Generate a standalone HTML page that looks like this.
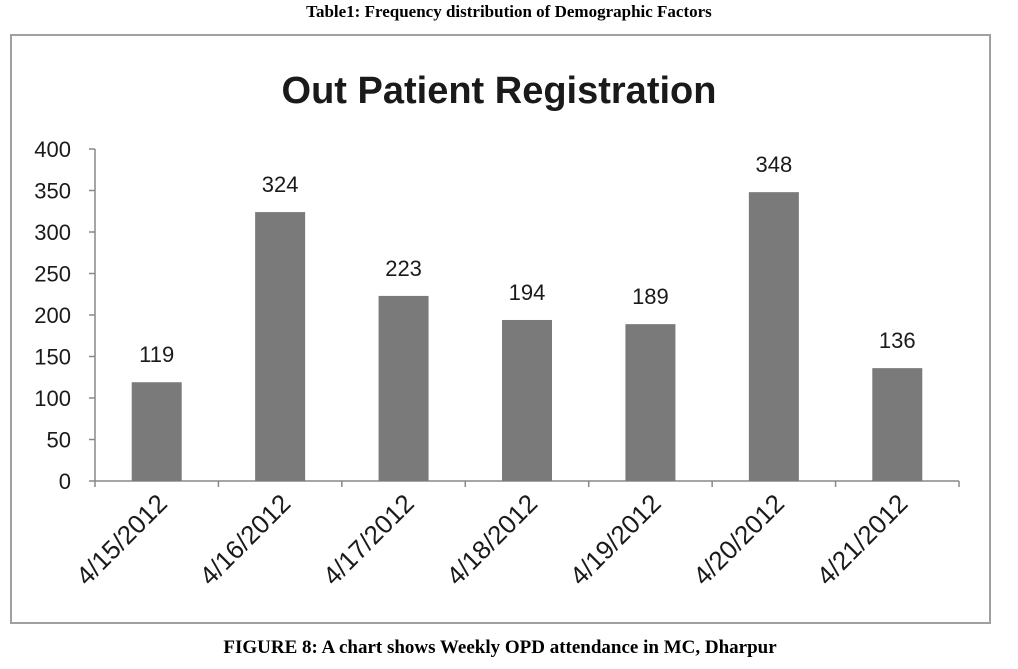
<!DOCTYPE html>
<html><head><meta charset="utf-8"><style>
body{margin:0;background:#fff;width:1018px;height:669px;overflow:hidden}
svg{display:block;font-family:"Liberation Sans","DejaVu Sans",sans-serif}
</style></head><body>
<svg width="1018" height="669">
<text x="509" y="17" text-anchor="middle" font-family="Liberation Serif" font-weight="bold" font-size="17">Table1: Frequency distribution of Demographic Factors</text>
<rect x="11" y="35" width="979" height="588" fill="#fff" stroke="#a0a0a0" stroke-width="2"/>
<text x="499" y="103" text-anchor="middle" font-size="38" font-weight="bold" fill="#1a1a1a">Out Patient Registration</text>
<g id="plot"></g>
<text x="500" y="653" text-anchor="middle" font-family="Liberation Serif" font-weight="bold" font-size="19">FIGURE 8: A chart shows Weekly OPD attendance in MC, Dharpur</text>
</svg>
<script>
const categories=["4/15/2012","4/16/2012","4/17/2012","4/18/2012","4/19/2012","4/20/2012","4/21/2012"];
const values=[119,324,223,194,189,348,136];
const yTicks=[0,50,100,150,200,250,300,350,400];
const NS="http://www.w3.org/2000/svg";
const g=document.getElementById("plot");
const x0=95,x1=959,y0=481,y1=149,yMax=400;
const y=v=>y0-(v/yMax)*(y0-y1);
const step=(x1-x0)/categories.length;
const cx=i=>x0+step*(i+0.5);
function mk(t,a){const e=document.createElementNS(NS,t);for(const k in a)e.setAttribute(k,a[k]);g.appendChild(e);return e;}
let ax=mk("line",{x1:x0,y1:y1,x2:x0,y2:y0,stroke:"#888","stroke-width":1.5});


let xa=mk("line",{x1:x0,y1:y0,x2:x1,y2:y0,stroke:"#888","stroke-width":1.5});


yTicks.forEach(t=>{
 mk("line",{x1:x0-6,y1:y(t),x2:x0,y2:y(t),stroke:"#888","stroke-width":1.5});
 const tx=mk("text",{x:x0-24,y:y(t)+8,"text-anchor":"end","font-size":22,fill:"#1a1a1a"});
 tx.textContent=t;
 
 
});
for(let i=0;i<=categories.length;i++) mk("line",{x1:x0+step*i,y1:y0,x2:x0+step*i,y2:y0+6,stroke:"#888","stroke-width":1.5});
categories.forEach((c,i)=>{
 const bw=50;
 const b=mk("rect",{x:cx(i)-bw/2,y:y(values[i]),width:bw,height:y0-y(values[i]),fill:"#7a7a7a"});
 
 
 const v=mk("text",{x:cx(i),y:y(values[i])-20,"text-anchor":"middle","font-size":22,fill:"#1a1a1a"});
 v.textContent=values[i];
 
 
 const lx=cx(i)+12,ly=y0+24;
 const l=mk("text",{x:lx,y:ly,"text-anchor":"end","font-size":26,fill:"#1a1a1a",transform:`rotate(-45 ${lx} ${ly})`});
 l.textContent=c;
 
 
});
</script>
</body></html>
